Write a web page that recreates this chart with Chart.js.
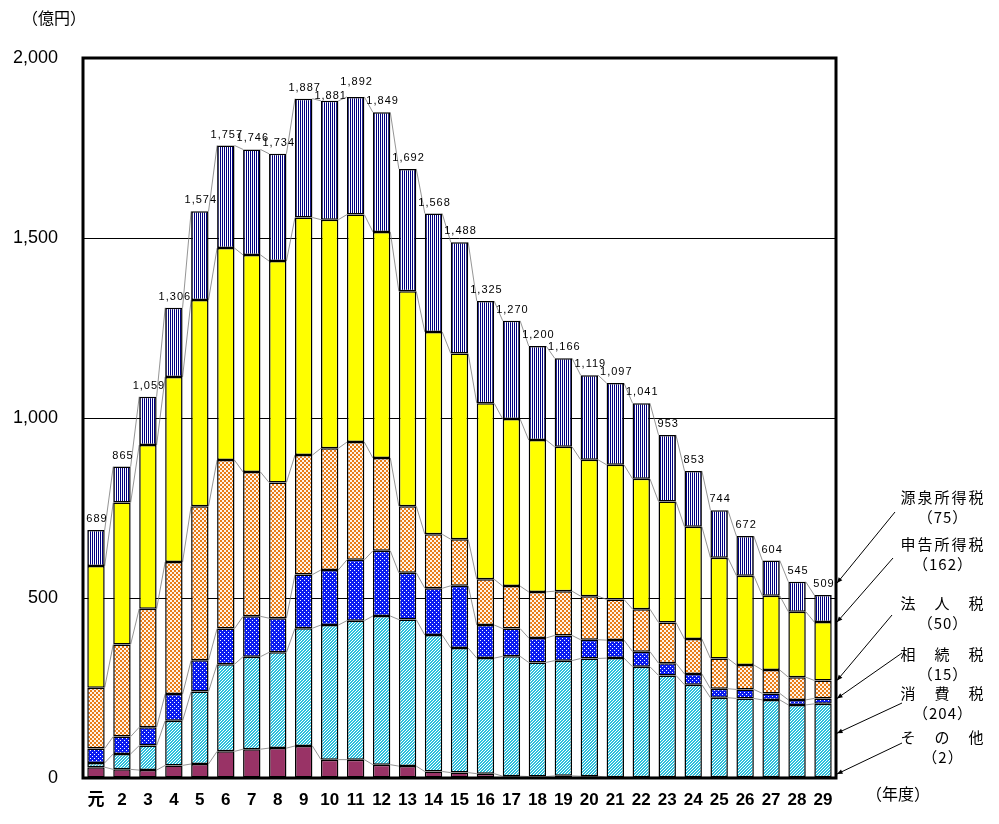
<!DOCTYPE html>
<html lang="ja">
<head>
<meta charset="utf-8">
<title>滞納整理中のものの税目別推移</title>
<script src="https://cdn.jsdelivr.net/npm/chart.js@4.4.1/dist/chart.umd.min.js"></script>
<style>
  body { margin: 0; background: #fff; }
  #wrap { position: relative; width: 999px; height: 824px; }
</style>
</head>
<body>
<div id="wrap"><canvas id="taxChart" width="999" height="824"></canvas></div>
<script>
// 年度
const categories = ['元', '2', '3', '4', '5', '6', '7', '8', '9', '10', '11', '12', '13', '14', '15',
  '16', '17', '18', '19', '20', '21', '22', '23', '24', '25', '26', '27', '28', '29'];

// 税目別（億円）
const sonota   = [30, 24, 22, 35, 39, 74, 80, 83, 89, 51, 51, 37, 33, 18, 15, 12, 5, 4, 6, 5, 2, 2, 2, 2, 2, 2, 2, 2, 2];
const shohi    = [12, 43, 68, 124, 201, 242, 257, 266, 327, 374, 386, 413, 407, 379, 346, 321, 333, 317, 320, 327, 331, 307, 283, 257, 221, 219, 215, 201, 204];
const sozoku   = [40, 48, 51, 74, 87, 99, 112, 95, 149, 153, 169, 181, 130, 130, 173, 92, 77, 68, 70, 52, 50, 42, 34, 30, 25, 25, 18, 14, 15];
const hojin    = [169, 256, 329, 367, 428, 468, 401, 377, 332, 338, 327, 258, 185, 150, 129, 127, 118, 128, 123, 121, 113, 118, 113, 97, 84, 68, 65, 63, 50];
const shinkoku = [338, 394, 455, 514, 573, 589, 603, 615, 660, 635, 632, 628, 597, 562, 516, 489, 464, 422, 401, 379, 374, 362, 336, 312, 280, 248, 206, 182, 162];
const gensen   = [100, 100, 134, 192, 246, 285, 293, 298, 330, 330, 327, 332, 340, 329, 309, 284, 273, 261, 246, 235, 227, 210, 185, 155, 132, 110, 98, 83, 75];

// 合計（棒の上のラベル）
const totals = [689, 865, 1059, 1306, 1574, 1757, 1746, 1734, 1887, 1881, 1892, 1849, 1692, 1568, 1488,
  1325, 1270, 1200, 1166, 1119, 1097, 1041, 953, 853, 744, 672, 604, 545, 509];

const yTicks = [0, 500, 1000, 1500, 2000];

// 右側の説明ラベル（上から）
const sideNames = ['源泉所得税', '申告所得税', '法　人　税', '相　続　税', '消　費　税', 'そ　の　他'];

const FONT = "'Liberation Sans', 'Noto Sans CJK JP', Arial, sans-serif";
const JFONT = "'Noto Sans CJK JP', 'Liberation Sans', sans-serif";

// パターン作成
function makePattern(size, painter) {
  const c = document.createElement('canvas');
  c.width = size; c.height = size;
  const g = c.getContext('2d');
  painter(g, size);
  return document.getElementById('taxChart').getContext('2d').createPattern(c, 'repeat');
}

const patCyan = makePattern(3, (g, n) => {
  g.fillStyle = '#ffffff'; g.fillRect(0, 0, n, n);
  g.fillStyle = '#2cc0dc';
  for (let x = 0; x < n; x++) for (let y = 0; y < n; y++) {
    if ((x + y) % 3 < 2) g.fillRect(x, y, 1, 1);
  }
});
const patBlue = makePattern(4, (g, n) => {
  g.fillStyle = '#0a1cf0'; g.fillRect(0, 0, n, n);
  g.fillStyle = '#ffffff';
  g.fillRect(0, 0, 1, 1); g.fillRect(2, 2, 1, 1);
});
const patOrange = makePattern(4, (g, n) => {
  g.fillStyle = '#fff4e8'; g.fillRect(0, 0, n, n);
  g.fillStyle = '#e87c18';
  g.fillRect(0, 0, 2, 2); g.fillRect(2, 2, 2, 2);
});
const patNavy = makePattern(2, (g, n) => {
  g.fillStyle = '#ffffff'; g.fillRect(0, 0, n, n);
  g.fillStyle = '#000080'; g.fillRect(0, 0, 1, n);
});

function ds(label, data, fill) {
  return {
    label: label,
    data: data,
    backgroundColor: fill,
    borderColor: '#000000',
    borderWidth: 1.5,
    borderSkipped: false,
    barPercentage: 0.67,
    categoryPercentage: 1.0
  };
}

// 区分の境目をつなぐ細線
const connectorPlugin = {
  id: 'connectors',
  beforeDatasetsDraw(chart) {
    const ctx = chart.ctx;
    ctx.save();
    ctx.strokeStyle = '#7a7a7a';
    ctx.lineWidth = 0.8;
    chart.data.datasets.forEach((d, di) => {
      const bars = chart.getDatasetMeta(di).data;
      for (let i = 0; i < bars.length - 1; i++) {
        const a = bars[i], b = bars[i + 1];
        ctx.beginPath();
        ctx.moveTo(a.x + a.width / 2, a.y);
        ctx.lineTo(b.x - b.width / 2, b.y);
        ctx.stroke();
      }
    });
    ctx.restore();
  }
};

// 合計ラベル、枠線、右側の説明
const decorPlugin = {
  id: 'decor',
  afterDraw(chart) {
    const ctx = chart.ctx;
    const area = chart.chartArea;
    const yScale = chart.scales.y;
    const topMeta = chart.getDatasetMeta(chart.data.datasets.length - 1);

    ctx.save();
    // 合計
    ctx.fillStyle = '#000';
    ctx.font = '11px ' + FONT;
    ctx.letterSpacing = '1px';
    ctx.textAlign = 'center';
    ctx.textBaseline = 'middle';
    totals.forEach((t, i) => {
      const bar = topMeta.data[i];
      let dy = 11;
      if (i === 9) dy = 5;        // 10年度は少し下げる
      if (i === 10) dy = 15;      // 11年度は少し上げる
      ctx.fillText(t.toLocaleString('en-US'), bar.x + 1, bar.y - dy);
    });
    ctx.letterSpacing = '0px';

    // 枠
    ctx.strokeStyle = '#000';
    ctx.lineWidth = 3;
    ctx.strokeRect(area.left, area.top, area.right - area.left, area.bottom - area.top);

    // 単位
    ctx.font = '16px ' + JFONT;
    ctx.textAlign = 'left';
    ctx.fillText('（億円）', 22, 18);
    ctx.fillText('（年度）', 866, 794);

    // 右側の説明と引き出し線
    const last = categories.length - 1;
    const stack = [gensen, shinkoku, hojin, sozoku, shohi, sonota];
    const cum = (k) => { // k 番目（上から）の区分の上端値
      let s = 0;
      for (let j = stack.length - 1; j >= k; j--) s += stack[j][last];
      return s;
    };
    const endY = [
      yScale.getPixelForValue(cum(0)) - 12,
      yScale.getPixelForValue(cum(1)),
      yScale.getPixelForValue(cum(2)),
      yScale.getPixelForValue(cum(3)),
      yScale.getPixelForValue(cum(5) + shohi[last] * 0.6),
      yScale.getPixelForValue(0) - 4
    ];
    const textY = [497, 544, 603, 654, 693, 737];
    const startPts = [[895, 512], [893, 558], [892, 615], [902, 653], [902, 703], [902, 743]];
    const endX = area.right + 1;

    ctx.font = '15px ' + JFONT;
    ctx.textAlign = 'center';
    sideNames.forEach((name, k) => {
      ctx.letterSpacing = '2px';
      ctx.fillText(name, 943, textY[k]);
      ctx.letterSpacing = '1px';
      ctx.fillText('（' + stack[k][last] + '）', 943, textY[k] + 20);
      ctx.letterSpacing = '0px';

      const [sx, sy] = startPts[k];
      const ey = endY[k];
      ctx.strokeStyle = '#000';
      ctx.lineWidth = 1;
      ctx.beginPath();
      ctx.moveTo(sx, sy);
      ctx.lineTo(endX, ey);
      ctx.stroke();
      // 矢印
      const ang = Math.atan2(ey - sy, endX - sx);
      ctx.beginPath();
      ctx.moveTo(endX, ey);
      ctx.lineTo(endX - 6 * Math.cos(ang - 0.4), ey - 6 * Math.sin(ang - 0.4));
      ctx.lineTo(endX - 6 * Math.cos(ang + 0.4), ey - 6 * Math.sin(ang + 0.4));
      ctx.closePath();
      ctx.fill();
    });
    ctx.restore();
  }
};

new Chart(document.getElementById('taxChart'), {
  type: 'bar',
  data: {
    labels: categories,
    datasets: [
      ds('その他', sonota, '#993366'),
      ds('消費税', shohi, patCyan),
      ds('相続税', sozoku, patBlue),
      ds('法人税', hojin, patOrange),
      ds('申告所得税', shinkoku, '#ffff00'),
      ds('源泉所得税', gensen, patNavy)
    ]
  },
  options: {
    responsive: false,
    animation: false,
    layout: { padding: { top: 58, right: 163, left: 0, bottom: 0 } },
    plugins: {
      legend: { display: false },
      tooltip: { enabled: false }
    },
    scales: {
      x: {
        stacked: true,
        grid: { display: false, drawTicks: false },
        border: { display: false },
        ticks: {
          color: '#000',
          font: { family: FONT, size: 17, weight: 'bold' },
          padding: 12,
          maxRotation: 0,
          autoSkip: false
        },
        afterFit(scale) { scale.height = 46; }
      },
      y: {
        stacked: true,
        min: yTicks[0],
        max: yTicks[yTicks.length - 1],
        afterBuildTicks(scale) { scale.ticks = yTicks.map(v => ({ value: v })); },
        grid: {
          drawTicks: false,
          color: (c) => (c.tick && (c.tick.value === 0 || c.tick.value === 2000)) ? 'rgba(0,0,0,0)' : '#000',
          lineWidth: 1
        },
        border: { display: false },
        ticks: {
          color: '#000',
          font: { family: FONT, size: 18 },
          padding: 25,
          callback: (v) => v.toLocaleString('en-US')
        },
        afterFit(scale) { scale.width = 83; }
      }
    }
  },
  plugins: [connectorPlugin, decorPlugin]
});
</script>
</body>
</html>
